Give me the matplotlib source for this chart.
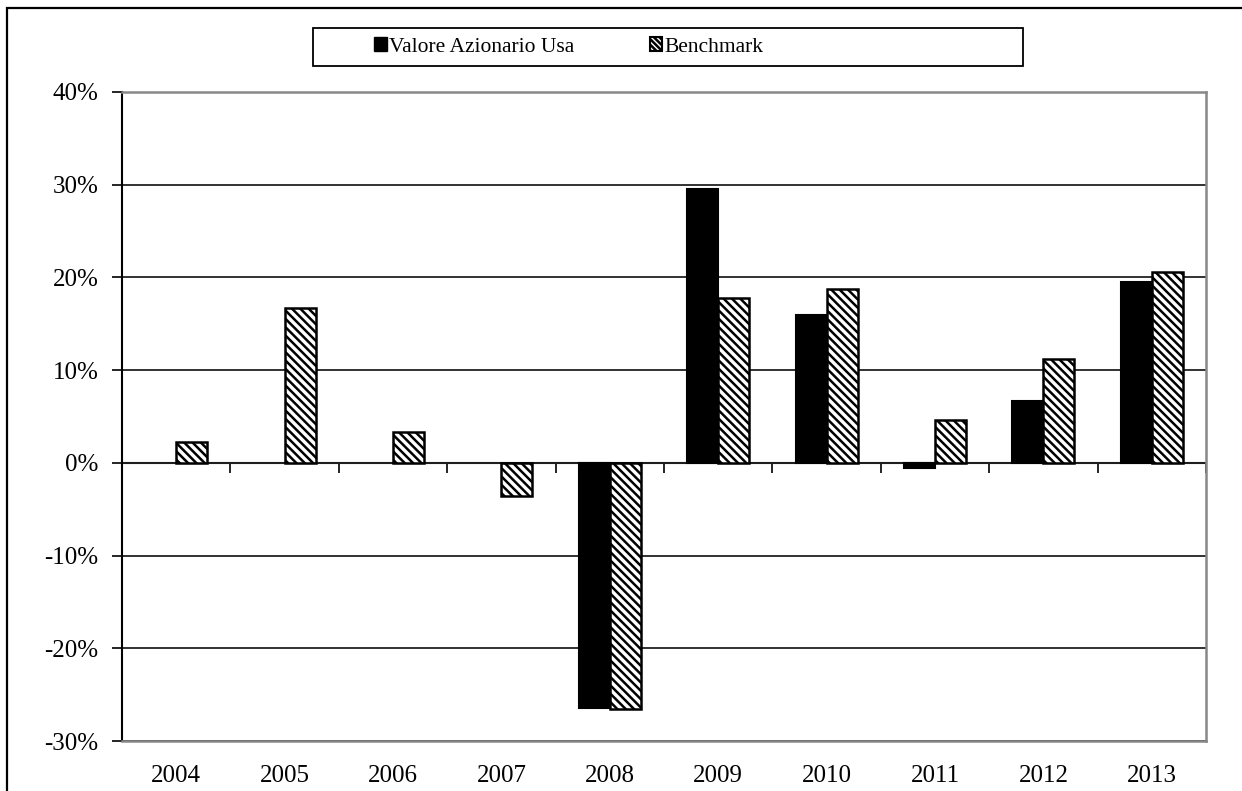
import numpy as np
import matplotlib
matplotlib.use("Agg")
import matplotlib.pyplot as plt
from matplotlib.patches import Rectangle, Patch
from matplotlib.ticker import FuncFormatter, FixedLocator

# Annual returns (%)
years = ["2004", "2005", "2006", "2007", "2008", "2009", "2010", "2011", "2012", "2013"]
fund = [np.nan, np.nan, np.nan, np.nan, -26.4, 29.5, 16.0, -0.6, 6.7, 19.5]
benchmark = [2.2, 16.7, 3.3, -3.6, -26.5, 17.8, 18.8, 4.6, 11.2, 20.6]
series_names = ["Valore Azionario Usa", "Benchmark"]
y_ticks = [-30, -20, -10, 0, 10, 20, 30, 40]

plt.rcParams["font.family"] = ["Liberation Serif", "DejaVu Serif"]
plt.rcParams["hatch.linewidth"] = 1.8
plt.rcParams["hatch.color"] = "black"

W, H = 1242, 791
fig = plt.figure(figsize=(W / 100, H / 100), dpi=100)
ax = fig.add_axes([122 / W, 1 - 741 / H, (1206 - 122) / W, (741 - 92) / H])

x = np.arange(len(years))
bw = 1 / 3.5  # gap width 150%
hatch = "\\" * 4
ax.bar(x - bw / 2, fund, width=bw, color="black", edgecolor="black", linewidth=1.5, zorder=3)
ax.bar(x + bw / 2, benchmark, width=bw, color="white", edgecolor="black", linewidth=1.8,
       hatch=hatch, zorder=3)

ymin, ymax = y_ticks[0], y_ticks[-1]
ax.set_ylim(ymin, ymax)
ax.set_xlim(-0.5, len(years) - 0.5)

# y axis
ax.yaxis.set_major_locator(FixedLocator(y_ticks))
ax.yaxis.set_major_formatter(FuncFormatter(lambda v, p: f"{v:.0f}%"))
ax.tick_params(axis="y", direction="out", length=7, width=1.2, pad=10, labelsize=18)
ax.grid(axis="y", color="#222222", linewidth=1.3, zorder=0)
ax.set_axisbelow(True)

# category labels along the bottom edge
ax.set_xticks(x)
ax.set_xticklabels(years)
ax.tick_params(axis="x", length=0, pad=17, labelsize=18)

for side in ("top", "right", "bottom"):
    ax.spines[side].set_color("#888888")
    ax.spines[side].set_linewidth(1.8)
ax.spines["left"].set_color("black")
ax.spines["left"].set_linewidth(1.5)

# category axis at zero with tick marks between categories
zero_frac = (0 - ymin) / (ymax - ymin)
sec = ax.secondary_xaxis(zero_frac)
sec.set_xticks(np.arange(len(years) + 1) - 0.5)
sec.set_xticklabels([])
sec.tick_params(axis="x", direction="out", length=7, width=1.2)
sec.spines["bottom"].set_color("black")
sec.spines["bottom"].set_linewidth(1.5)

# legend with its own frame
fig.patches.append(Rectangle((313 / W, 1 - 66 / H), (1023 - 313) / W, (66 - 28) / H,
                             transform=fig.transFigure, facecolor="white",
                             edgecolor="black", linewidth=1.3))
handles = [Patch(facecolor="black", edgecolor="black"),
           Patch(facecolor="white", edgecolor="black", hatch="\\" * 6, linewidth=1.5)]
fig.legend(handles, series_names, loc="center", bbox_to_anchor=(569 / W, 1 - 47 / H),
           ncol=2, frameon=False, fontsize=15.5, handlelength=0.58, handleheight=0.58,
           handletextpad=0.12, columnspacing=3.5, borderpad=0)

# outer chart border
fig.patches.append(Rectangle((7 / W, -0.1), 1.2, 1 - 8 / H + 0.1,
                             transform=fig.transFigure, facecolor="none",
                             edgecolor="black", linewidth=1.6))

fig.savefig("out.png", dpi=100, facecolor="white")
